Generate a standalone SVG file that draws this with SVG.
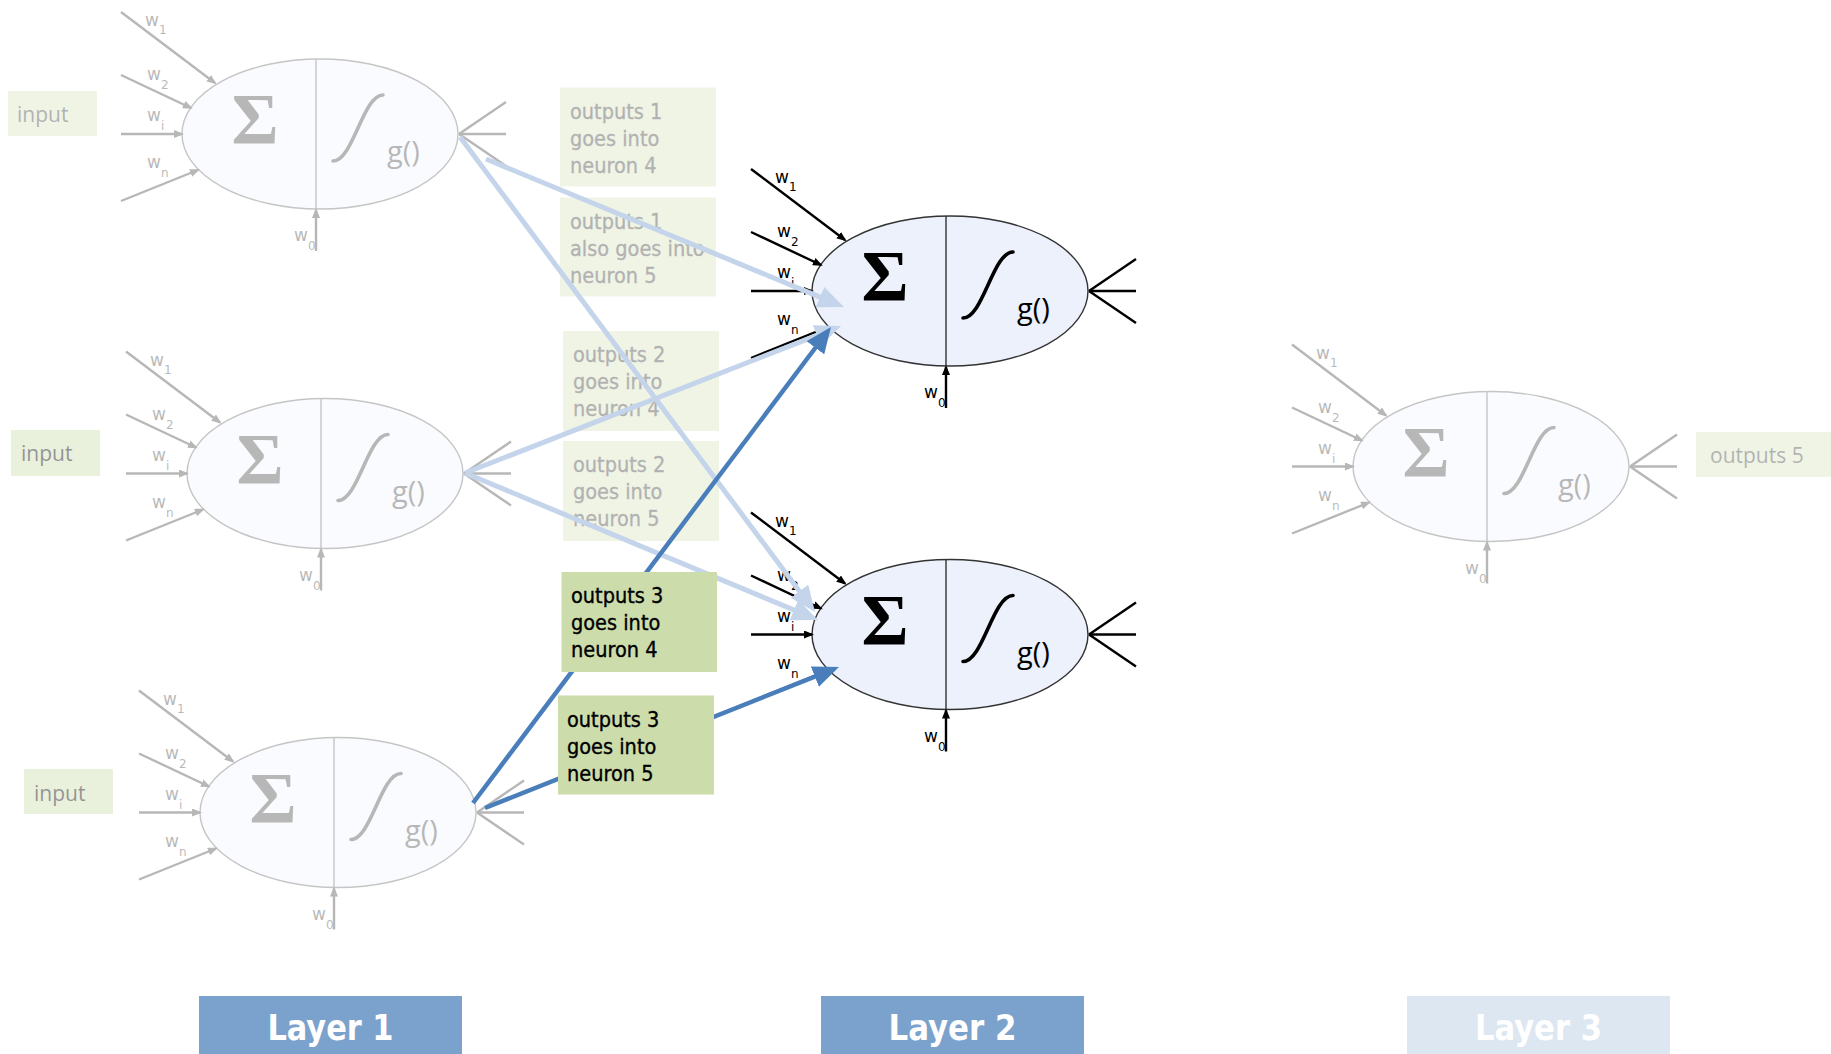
<svg xmlns="http://www.w3.org/2000/svg" width="1831" height="1054" viewBox="0 0 1831 1054">
  <defs>
    <style>
      .body { fill: #ecf1fc; stroke: #333; stroke-width: 1.4; }
      .div { stroke: #333; stroke-width: 1.4; }
      .sig { font-family: "Liberation Serif", serif; font-weight: bold; font-size: 72px; fill: #000; text-anchor: middle; }
      .act { fill: none; stroke: #000; stroke-width: 3.6; stroke-linecap: round; }
      .g { font-family: "Open Sans", "Liberation Sans", sans-serif; font-size: 29px; fill: #000; }
      .in { stroke: #000; stroke-width: 2.4; marker-end: url(#tip); }
      .out { stroke: #000; stroke-width: 2.4; }
      .w { font-family: "DejaVu Sans", sans-serif; font-size: 17px; fill: #000; }
      .sub { font-size: 12px; }
      .faded { opacity: 0.28; }
      .lbl { fill: #cddcab; }
      .lbl-txt { font-family: "DejaVu Sans Condensed", "Noto Sans", sans-serif; font-size: 21.5px; fill: #000; stroke: #000; stroke-width: 0.35; }
      .io-txt { font-family: "Open Sans", "Liberation Sans", sans-serif; font-size: 21px; fill: #000; }
      .layer { fill: #7ba2cc; }
      .layer-txt { font-family: "DejaVu Sans Condensed", "DejaVu Sans", sans-serif; font-weight: bold; font-size: 36px; fill: #fff; text-anchor: middle; }
      .link-dark { stroke: #4a7ebb; stroke-width: 4.5; fill: none; marker-end: url(#head-dark); }
      .link-light { stroke: #c4d4ea; stroke-width: 5; fill: none; marker-end: url(#head-light); }
    </style>
    <marker id="tip" markerUnits="userSpaceOnUse" viewBox="0 0 10 8" markerWidth="10" markerHeight="8" refX="8" refY="4" orient="auto">
      <path d="M0,0 L10,4 L0,8 z" fill="#000"/>
    </marker>
    <marker id="head-dark" markerUnits="userSpaceOnUse" viewBox="0 0 26 22" markerWidth="26" markerHeight="22" refX="6" refY="11" orient="auto">
      <path d="M0,0 L26,11 L0,22 z" fill="#4a7ebb"/>
    </marker>
    <marker id="head-light" markerUnits="userSpaceOnUse" viewBox="0 0 26 22" markerWidth="26" markerHeight="22" refX="6" refY="11" orient="auto">
      <path d="M0,0 L26,11 L0,22 z" fill="#c4d4ea"/>
    </marker>
  </defs>

  <rect width="1831" height="1054" fill="#fff"/>

  <!-- Layer 1 neurons (faded) -->
  <g id="neuron-1" class="faded" transform="translate(320,134)">
    <ellipse class="body" rx="138" ry="75"/>
    <line class="div" x1="-4" y1="-75" x2="-4" y2="75"/>
    <text class="sig" x="-65" y="9">Σ</text>
    <path class="act" d="M13,27 C33,27 43,-39 63,-39"/>
    <text class="g" x="67" y="28">g()</text>
    <line class="in" x1="-199" y1="-122" x2="-105" y2="-51"/>
    <line class="in" x1="-199" y1="-59" x2="-129" y2="-26"/>
    <line class="in" x1="-199" y1="0" x2="-138" y2="0"/>
    <line class="in" x1="-199" y1="67" x2="-122" y2="36"/>
    <line class="in" x1="-4" y1="117" x2="-4" y2="76"/>
    <line class="out" x1="139" y1="0" x2="186" y2="-32"/>
    <line class="out" x1="139" y1="0" x2="186" y2="0"/>
    <line class="out" x1="139" y1="0" x2="186" y2="32"/>
    <text class="w" x="-175" y="-108">w<tspan class="sub" dy="8">1</tspan></text>
    <text class="w" x="-173" y="-54">w<tspan class="sub" dy="9">2</tspan></text>
    <text class="w" x="-173" y="-13">w<tspan class="sub" dy="9">i</tspan></text>
    <text class="w" x="-173" y="34">w<tspan class="sub" dy="9">n</tspan></text>
    <text class="w" x="-26" y="107">w<tspan class="sub" dy="9">0</tspan></text>
  </g>

  <g id="neuron-2" class="faded" transform="translate(325,473.5)">
    <ellipse class="body" rx="138" ry="75"/>
    <line class="div" x1="-4" y1="-75" x2="-4" y2="75"/>
    <text class="sig" x="-65" y="9">Σ</text>
    <path class="act" d="M13,27 C33,27 43,-39 63,-39"/>
    <text class="g" x="67" y="28">g()</text>
    <line class="in" x1="-199" y1="-122" x2="-105" y2="-51"/>
    <line class="in" x1="-199" y1="-59" x2="-129" y2="-26"/>
    <line class="in" x1="-199" y1="0" x2="-138" y2="0"/>
    <line class="in" x1="-199" y1="67" x2="-122" y2="36"/>
    <line class="in" x1="-4" y1="117" x2="-4" y2="76"/>
    <line class="out" x1="139" y1="0" x2="186" y2="-32"/>
    <line class="out" x1="139" y1="0" x2="186" y2="0"/>
    <line class="out" x1="139" y1="0" x2="186" y2="32"/>
    <text class="w" x="-175" y="-108">w<tspan class="sub" dy="8">1</tspan></text>
    <text class="w" x="-173" y="-54">w<tspan class="sub" dy="9">2</tspan></text>
    <text class="w" x="-173" y="-13">w<tspan class="sub" dy="9">i</tspan></text>
    <text class="w" x="-173" y="34">w<tspan class="sub" dy="9">n</tspan></text>
    <text class="w" x="-26" y="107">w<tspan class="sub" dy="9">0</tspan></text>
  </g>

  <g id="neuron-3" class="faded" transform="translate(338,812.5)">
    <ellipse class="body" rx="138" ry="75"/>
    <line class="div" x1="-4" y1="-75" x2="-4" y2="75"/>
    <text class="sig" x="-65" y="9">Σ</text>
    <path class="act" d="M13,27 C33,27 43,-39 63,-39"/>
    <text class="g" x="67" y="28">g()</text>
    <line class="in" x1="-199" y1="-122" x2="-105" y2="-51"/>
    <line class="in" x1="-199" y1="-59" x2="-129" y2="-26"/>
    <line class="in" x1="-199" y1="0" x2="-138" y2="0"/>
    <line class="in" x1="-199" y1="67" x2="-122" y2="36"/>
    <line class="in" x1="-4" y1="117" x2="-4" y2="76"/>
    <line class="out" x1="139" y1="0" x2="186" y2="-32"/>
    <line class="out" x1="139" y1="0" x2="186" y2="0"/>
    <line class="out" x1="139" y1="0" x2="186" y2="32"/>
    <text class="w" x="-175" y="-108">w<tspan class="sub" dy="8">1</tspan></text>
    <text class="w" x="-173" y="-54">w<tspan class="sub" dy="9">2</tspan></text>
    <text class="w" x="-173" y="-13">w<tspan class="sub" dy="9">i</tspan></text>
    <text class="w" x="-173" y="34">w<tspan class="sub" dy="9">n</tspan></text>
    <text class="w" x="-26" y="107">w<tspan class="sub" dy="9">0</tspan></text>
  </g>

  <!-- Layer 2 neurons -->
  <g id="neuron-4" transform="translate(950,291)">
    <ellipse class="body" rx="138" ry="75"/>
    <line class="div" x1="-4" y1="-75" x2="-4" y2="75"/>
    <text class="sig" x="-65" y="9">Σ</text>
    <path class="act" d="M13,27 C33,27 43,-39 63,-39"/>
    <text class="g" x="67" y="28">g()</text>
    <line class="in" x1="-199" y1="-122" x2="-105" y2="-51"/>
    <line class="in" x1="-199" y1="-59" x2="-129" y2="-26"/>
    <line class="in" x1="-199" y1="0" x2="-138" y2="0"/>
    <line class="in" x1="-199" y1="67" x2="-122" y2="36"/>
    <line class="in" x1="-4" y1="117" x2="-4" y2="76"/>
    <line class="out" x1="139" y1="0" x2="186" y2="-32"/>
    <line class="out" x1="139" y1="0" x2="186" y2="0"/>
    <line class="out" x1="139" y1="0" x2="186" y2="32"/>
    <text class="w" x="-175" y="-108">w<tspan class="sub" dy="8">1</tspan></text>
    <text class="w" x="-173" y="-54">w<tspan class="sub" dy="9">2</tspan></text>
    <text class="w" x="-173" y="-13">w<tspan class="sub" dy="9">i</tspan></text>
    <text class="w" x="-173" y="34">w<tspan class="sub" dy="9">n</tspan></text>
    <text class="w" x="-26" y="107">w<tspan class="sub" dy="9">0</tspan></text>
  </g>

  <g id="neuron-5" transform="translate(950,634.5)">
    <ellipse class="body" rx="138" ry="75"/>
    <line class="div" x1="-4" y1="-75" x2="-4" y2="75"/>
    <text class="sig" x="-65" y="9">Σ</text>
    <path class="act" d="M13,27 C33,27 43,-39 63,-39"/>
    <text class="g" x="67" y="28">g()</text>
    <line class="in" x1="-199" y1="-122" x2="-105" y2="-51"/>
    <line class="in" x1="-199" y1="-59" x2="-129" y2="-26"/>
    <line class="in" x1="-199" y1="0" x2="-138" y2="0"/>
    <line class="in" x1="-199" y1="67" x2="-122" y2="36"/>
    <line class="in" x1="-4" y1="117" x2="-4" y2="76"/>
    <line class="out" x1="139" y1="0" x2="186" y2="-32"/>
    <line class="out" x1="139" y1="0" x2="186" y2="0"/>
    <line class="out" x1="139" y1="0" x2="186" y2="32"/>
    <text class="w" x="-175" y="-108">w<tspan class="sub" dy="8">1</tspan></text>
    <text class="w" x="-173" y="-54">w<tspan class="sub" dy="9">2</tspan></text>
    <text class="w" x="-173" y="-13">w<tspan class="sub" dy="9">i</tspan></text>
    <text class="w" x="-173" y="34">w<tspan class="sub" dy="9">n</tspan></text>
    <text class="w" x="-26" y="107">w<tspan class="sub" dy="9">0</tspan></text>
  </g>

  <!-- Layer 3 neuron (faded) -->
  <g id="neuron-6" class="faded" transform="translate(1491,466.5)">
    <ellipse class="body" rx="138" ry="75"/>
    <line class="div" x1="-4" y1="-75" x2="-4" y2="75"/>
    <text class="sig" x="-65" y="9">Σ</text>
    <path class="act" d="M13,27 C33,27 43,-39 63,-39"/>
    <text class="g" x="67" y="28">g()</text>
    <line class="in" x1="-199" y1="-122" x2="-105" y2="-51"/>
    <line class="in" x1="-199" y1="-59" x2="-129" y2="-26"/>
    <line class="in" x1="-199" y1="0" x2="-138" y2="0"/>
    <line class="in" x1="-199" y1="67" x2="-122" y2="36"/>
    <line class="in" x1="-4" y1="117" x2="-4" y2="76"/>
    <line class="out" x1="139" y1="0" x2="186" y2="-32"/>
    <line class="out" x1="139" y1="0" x2="186" y2="0"/>
    <line class="out" x1="139" y1="0" x2="186" y2="32"/>
    <text class="w" x="-175" y="-108">w<tspan class="sub" dy="8">1</tspan></text>
    <text class="w" x="-173" y="-54">w<tspan class="sub" dy="9">2</tspan></text>
    <text class="w" x="-173" y="-13">w<tspan class="sub" dy="9">i</tspan></text>
    <text class="w" x="-173" y="34">w<tspan class="sub" dy="9">n</tspan></text>
    <text class="w" x="-26" y="107">w<tspan class="sub" dy="9">0</tspan></text>
  </g>

  <!-- input / output tags -->
  <g id="input-1" opacity="0.3">
    <rect class="lbl" x="8" y="91" width="89" height="45"/>
    <text class="io-txt" x="17" y="122">input</text>
  </g>
  <g id="input-2" opacity="0.42">
    <rect class="lbl" x="11" y="430" width="89" height="46"/>
    <text class="io-txt" x="21" y="461">input</text>
  </g>
  <g id="input-3" opacity="0.42">
    <rect class="lbl" x="24" y="769" width="89" height="45"/>
    <text class="io-txt" x="34" y="801">input</text>
  </g>
  <g id="output-5" opacity="0.3">
    <rect class="lbl" x="1696" y="432" width="135" height="45"/>
    <text class="io-txt" x="1710" y="463">outputs 5</text>
  </g>

  <!-- notes for outputs 1 and 2 (faded) -->
  <g id="note-1-4" opacity="0.3">
    <rect class="lbl" x="560" y="87.5" width="156" height="99"/>
    <text class="lbl-txt" x="570" y="118.5">outputs 1</text>
    <text class="lbl-txt" x="570" y="145.5">goes into</text>
    <text class="lbl-txt" x="570" y="172.5">neuron 4</text>
  </g>
  <g id="note-1-5" opacity="0.3">
    <rect class="lbl" x="560" y="197.5" width="156" height="99"/>
    <text class="lbl-txt" x="570" y="228.5">outputs 1</text>
    <text class="lbl-txt" x="570" y="255.5">also goes into</text>
    <text class="lbl-txt" x="570" y="282.5">neuron 5</text>
  </g>
  <g id="note-2-4" opacity="0.3">
    <rect class="lbl" x="563" y="331" width="156" height="100"/>
    <text class="lbl-txt" x="573" y="362">outputs 2</text>
    <text class="lbl-txt" x="573" y="389">goes into</text>
    <text class="lbl-txt" x="573" y="416">neuron 4</text>
  </g>
  <g id="note-2-5" opacity="0.3">
    <rect class="lbl" x="563" y="441" width="156" height="100"/>
    <text class="lbl-txt" x="573" y="472">outputs 2</text>
    <text class="lbl-txt" x="573" y="499">goes into</text>
    <text class="lbl-txt" x="573" y="526">neuron 5</text>
  </g>

  <!-- connections from layer 1 to layer 2 -->
  <g id="connectors">
    <path class="link-light" d="M486,159 L825.5,299.4"/>
    <path class="link-light" d="M460,137 L803,596"/>
    <path class="link-light" d="M465,473 L822.4,333.3"/>
    <path class="link-light" d="M465,473 L799.5,612.3"/>
    <path class="link-dark" d="M473,803 L819,343"/>
    <path class="link-dark" d="M485,808 L820.4,674.4"/>
  </g>

  <!-- notes for output 3 -->
  <g id="note-3-4">
    <rect class="lbl" x="561.5" y="572" width="155.5" height="100"/>
    <text class="lbl-txt" x="571" y="603">outputs 3</text>
    <text class="lbl-txt" x="571" y="630">goes into</text>
    <text class="lbl-txt" x="571" y="657">neuron 4</text>
  </g>
  <g id="note-3-5">
    <rect class="lbl" x="558" y="695.5" width="156" height="99"/>
    <text class="lbl-txt" x="567" y="726.5">outputs 3</text>
    <text class="lbl-txt" x="567" y="753.5">goes into</text>
    <text class="lbl-txt" x="567" y="780.5">neuron 5</text>
  </g>

  <!-- layer captions -->
  <g id="layer-1">
    <rect class="layer" x="199" y="996" width="263" height="58"/>
    <text class="layer-txt" x="330.5" y="1040" textLength="126" lengthAdjust="spacingAndGlyphs">Layer 1</text>
  </g>
  <g id="layer-2">
    <rect class="layer" x="821" y="996" width="263" height="58"/>
    <text class="layer-txt" x="952.5" y="1040" textLength="128" lengthAdjust="spacingAndGlyphs">Layer 2</text>
  </g>
  <g id="layer-3" opacity="0.25">
    <rect class="layer" x="1407" y="996" width="263" height="58"/>
    <text class="layer-txt" x="1538.5" y="1040" textLength="127" lengthAdjust="spacingAndGlyphs">Layer 3</text>
  </g>
</svg>
